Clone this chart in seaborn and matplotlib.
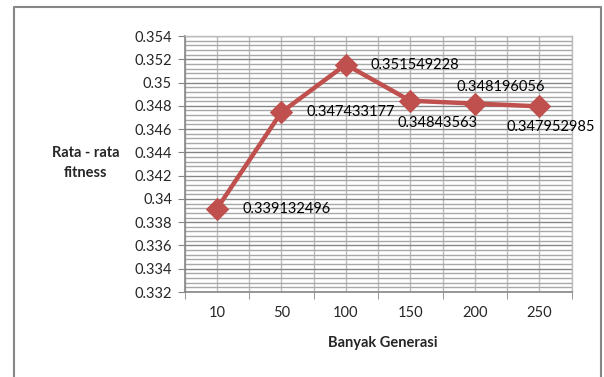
import numpy as np
import pandas as pd
import matplotlib
matplotlib.use('Agg')
import matplotlib.pyplot as plt
from matplotlib.lines import Line2D
from matplotlib.ticker import FixedLocator
import seaborn as sns

generasi = ['10', '50', '100', '150', '200', '250']
fitness = [0.339132496, 0.347433177, 0.351549228, 0.34843563, 0.348196056, 0.347952985]
label_text = ['0.339132496', '0.347433177', '0.351549228', '0.34843563', '0.348196056', '0.347952985']

sns.set_style('white')
plt.rcParams['font.family'] = ['Lato', 'DejaVu Sans']

df = pd.DataFrame({'pos': np.arange(len(generasi)), 'fitness': fitness})

fig = plt.figure(figsize=(6.04, 3.77), dpi=100)
ax = fig.add_axes([184.5 / 604, 1 - 292 / 377, 387 / 604, 256 / 377])

red = '#C0504D'
sns.lineplot(data=df, x='pos', y='fitness', color=red, linewidth=3.2,
             marker='D', markersize=11, markeredgecolor=red, ax=ax, zorder=5)

ax.set_xlim(-0.5, len(generasi) - 0.5)
ax.set_ylim(0.332, 0.354)
ax.set_xticks(df['pos'])
ax.set_xticklabels(generasi)
ax.xaxis.set_minor_locator(FixedLocator(np.arange(len(generasi) + 1) - 0.5))
yt = np.arange(0.332, 0.3541, 0.002)
ax.set_yticks(yt)
ax.set_yticklabels([f'{v:g}' for v in np.round(yt, 3)])
ax.set_yticks(np.arange(0.332, 0.3541, 0.0004), minor=True)

ax.tick_params(axis='x', which='major', length=0, labelsize=10.5, pad=10)
ax.tick_params(axis='x', which='minor', length=5, color='#868686', direction='out', bottom=True)
ax.tick_params(axis='y', which='major', length=5, color='#868686', direction='out', left=True, labelsize=10.5, pad=4)
ax.tick_params(axis='y', which='minor', length=0, left=True)

ax.yaxis.grid(True, which='minor', color='#a8a8a8', linewidth=1.0)
ax.yaxis.grid(True, which='major', color='#858585', linewidth=1.0)
ax.xaxis.grid(True, which='both', color='#bcbcbc', linewidth=1.0)
ax.set_axisbelow(True)
ax.set_xlabel('')
ax.set_ylabel('')

for s in ['left', 'bottom']:
    ax.spines[s].set_color('#868686')
    ax.spines[s].set_linewidth(1.2)
for s in ['top', 'right']:
    ax.spines[s].set_color('#bcbcbc')
    ax.spines[s].set_linewidth(1.0)

# data label offsets in pixels (dx to left edge, dy)
offsets = [(26, 0), (25, 0), (25, 0), (-13, -22), (-18, 17), (-33, -21)]
for i, (v, t) in enumerate(zip(fitness, label_text)):
    ax.annotate(t, (i, v), xytext=offsets[i], textcoords='offset pixels',
                ha='left', va='center', fontsize=10.5, color='black', zorder=6)

fig.text(86 / 604, 1 - 163 / 377, 'Rata - rata\nfitness', ha='center', va='center',
         fontsize=10.5, fontweight='bold', linespacing=1.5)
fig.text(383 / 604, 1 - 343 / 377, 'Banyak Generasi', ha='center', va='center',
         fontsize=10.5, fontweight='bold')

# outer chart frame (bottom edge runs off the image)
fx0, fx1, fy1 = 13.5 / 604, 600.5 / 604, 1 - 6.5 / 377
fig.add_artist(Line2D([fx0, fx0, fx1, fx1], [-0.05, fy1, fy1, -0.05],
                      transform=fig.transFigure, color='#868686', linewidth=1.5))

fig.savefig('out.png', dpi=100)
